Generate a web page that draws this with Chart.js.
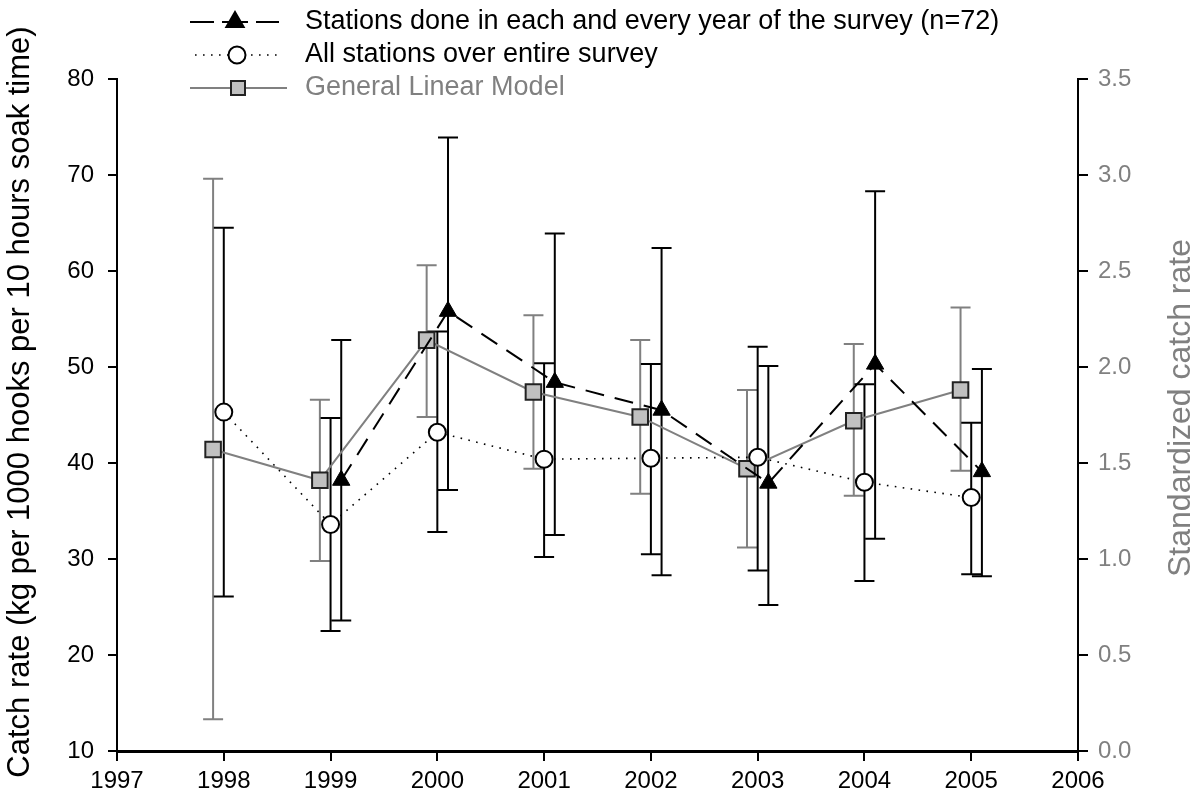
<!DOCTYPE html>
<html>
<head>
<meta charset="utf-8">
<script src="https://cdn.jsdelivr.net/npm/chart.js@4"></script>
<style>
html,body{margin:0;padding:0;background:#fff;}
#wrap{width:1198px;height:801px;position:relative;}
</style>
</head>
<body>
<div id="wrap"><canvas id="c" width="1198" height="801"></canvas></div>
<script>
// ---- data ----
const years = [1998, 1999, 2000, 2001, 2002, 2003, 2004, 2005];
const xTicks = [1997, 1998, 1999, 2000, 2001, 2002, 2003, 2004, 2005, 2006];

// Stations done in each and every year (left axis)
const everyYear      = [null, 38.2, 55.8, 48.4, 45.5, 37.9, 50.3, 39.1];
const everyYearUpper = [null, 52.8, 73.9, 63.9, 62.4, 50.1, 68.3, 49.8];
const everyYearLower = [null, 23.6, 37.2, 32.5, 28.3, 25.2, 32.1, 28.2];

// All stations over entire survey (left axis)
const allStations      = [45.3, 33.6, 43.2, 40.4, 40.5, 40.6, 38.0, 36.4];
const allStationsUpper = [64.5, 44.7, 53.7, 50.4, 50.3, 52.1, 48.2, 44.2];
const allStationsLower = [26.1, 22.5, 32.8, 30.2, 30.5, 28.8, 27.7, 28.4];

// General Linear Model (right axis)
const glm      = [1.57, 1.41, 2.14, 1.87, 1.74, 1.47, 1.72, 1.88];
const glmUpper = [2.98, 1.83, 2.53, 2.27, 2.14, 1.88, 2.12, 2.31];
const glmLower = [0.165, 0.99, 1.74, 1.47, 1.34, 1.06, 1.33, 1.46];

const labels = [
  'Stations done in each and every year of the survey (n=72)',
  'All stations over entire survey',
  'General Linear Model'
];
const leftTitle = 'Catch rate (kg per 1000 hooks per 10 hours soak time)';
const rightTitle = 'Standardized catch rate';

// ---- styling ----
const GRAY = '#808080';
const FONT = '"Liberation Sans", Arial, sans-serif';
const OFF = 0.1; // horizontal offset of series around each year

function pts(vals, off) {
  const out = [];
  years.forEach((yr, i) => { if (vals[i] !== null) out.push({x: yr + off, y: vals[i]}); });
  return out;
}

const datasets = [
  {
    label: labels[2], data: pts(glm, -OFF), yAxisID: 'y2',
    borderColor: GRAY, borderWidth: 2, pointStyle: 'rect', pointRadius: 11,
    pointBackgroundColor: '#c0c0c0', pointBorderColor: '#222', pointBorderWidth: 2,
    errUpper: glmUpper, errLower: glmLower, errColor: GRAY, off: -OFF, order: 3
  },
  {
    label: labels[1], data: pts(allStations, 0), yAxisID: 'y',
    borderColor: '#000', borderWidth: 1.6, borderDash: [1.6, 6.4], pointStyle: 'circle', pointRadius: 8.5,
    pointBackgroundColor: '#fff', pointBorderColor: '#000', pointBorderWidth: 2,
    errUpper: allStationsUpper, errLower: allStationsLower, errColor: '#000', off: 0, order: 2
  },
  {
    label: labels[0], data: pts(everyYear, OFF), yAxisID: 'y',
    borderColor: '#000', borderWidth: 2, borderDash: [19, 11], pointStyle: 'triangle', pointRadius: 10,
    pointBackgroundColor: '#000', pointBorderColor: '#000', pointBorderWidth: 1,
    errUpper: everyYearUpper, errLower: everyYearLower, errColor: '#000', off: OFF, order: 1
  }
];

const errorBars = {
  id: 'errorBars',
  beforeDatasetsDraw(chart) {
    const ctx = chart.ctx;
    const xs = chart.scales.x;
    chart.data.datasets.forEach(ds => {
      const ys = chart.scales[ds.yAxisID];
      ctx.save();
      ctx.strokeStyle = ds.errColor;
      ctx.lineWidth = 2;
      years.forEach((yr, i) => {
        if (ds.errUpper[i] == null) return;
        const x = xs.getPixelForValue(yr + ds.off);
        const yu = ys.getPixelForValue(ds.errUpper[i]);
        const yl = ys.getPixelForValue(ds.errLower[i]);
        ctx.beginPath();
        ctx.moveTo(x, yu); ctx.lineTo(x, yl);
        ctx.moveTo(x - 10, yu); ctx.lineTo(x + 10, yu);
        ctx.moveTo(x - 10, yl); ctx.lineTo(x + 10, yl);
        ctx.stroke();
      });
      ctx.restore();
    });
  }
};

const decorations = {
  id: 'decorations',
  afterDraw(chart) {
    const ctx = chart.ctx;
    ctx.save();
    // axis titles
    ctx.textAlign = 'center';
    ctx.textBaseline = 'middle';
    ctx.font = '31px ' + FONT;
    ctx.fillStyle = '#000';
    ctx.save(); ctx.translate(20, 402); ctx.rotate(-Math.PI / 2); ctx.fillText(leftTitle, 0, 0); ctx.restore();
    ctx.font = '32px ' + FONT;
    ctx.fillStyle = GRAY;
    ctx.save(); ctx.translate(1181, 408); ctx.rotate(-Math.PI / 2); ctx.fillText(rightTitle, 0, 0); ctx.restore();

    // legend
    const rows = [22, 55, 88];
    const tx = 305;
    ctx.font = '27px ' + FONT;
    ctx.textAlign = 'left';
    ctx.textBaseline = 'middle';
    // row 1: dashed + triangle
    ctx.strokeStyle = '#000'; ctx.lineWidth = 2;
    ctx.beginPath();
    ctx.moveTo(190, rows[0]); ctx.lineTo(214, rows[0]);
    ctx.moveTo(256, rows[0]); ctx.lineTo(279, rows[0]);
    ctx.moveTo(222, rows[0]); ctx.lineTo(248, rows[0]);
    ctx.stroke();
    Chart.helpers.drawPoint(ctx, {pointStyle: 'triangle', radius: 10, borderWidth: 1}, 235, rows[0]);
    ctx.fillStyle = '#000'; ctx.fill();
    ctx.fillText(labels[0], tx, rows[0]);
    // row 2: dotted + circle
    ctx.setLineDash([1.6, 6.4]); ctx.lineWidth = 1.6;
    ctx.beginPath(); ctx.moveTo(195, rows[1]); ctx.lineTo(282, rows[1]); ctx.stroke();
    ctx.setLineDash([]);
    ctx.lineWidth = 2; ctx.fillStyle = '#fff'; ctx.strokeStyle = '#000';
    ctx.beginPath(); ctx.arc(237, rows[1], 8.5, 0, Math.PI * 2); ctx.fill(); ctx.stroke();
    ctx.fillStyle = '#000';
    ctx.fillText(labels[1], tx, rows[1]);
    // row 3: gray line + square
    ctx.strokeStyle = GRAY; ctx.lineWidth = 2;
    ctx.beginPath(); ctx.moveTo(190, rows[2]); ctx.lineTo(287, rows[2]); ctx.stroke();
    ctx.fillStyle = '#c0c0c0'; ctx.strokeStyle = '#222';
    ctx.fillRect(231, rows[2] - 7, 14, 14); ctx.strokeRect(231, rows[2] - 7, 14, 14);
    ctx.fillStyle = GRAY;
    ctx.fillText(labels[2], tx, rows[2]);
    ctx.restore();
  }
};

new Chart(document.getElementById('c'), {
  type: 'line',
  data: { datasets },
  plugins: [errorBars, decorations],
  options: {
    responsive: false,
    animation: false,
    layout: { padding: { top: 79, left: 0, right: 0, bottom: 0 } },
    plugins: { legend: { display: false }, tooltip: { enabled: false } },
    scales: {
      x: {
        type: 'linear', min: 1997, max: 2006,
        afterBuildTicks: s => { s.ticks = xTicks.map(v => ({value: v})); },
        afterFit: s => { s.height = 50; },
        ticks: { color: '#000', font: { size: 24, family: FONT }, padding: 6, maxRotation: 0,
                 callback: v => String(v) },
        grid: { drawOnChartArea: false, drawTicks: true, tickLength: 10, color: '#000', lineWidth: 2 },
        border: { display: true, color: '#000', width: 3 }
      },
      y: {
        position: 'left', min: 10, max: 80,
        afterFit: s => { s.width = 117; },
        ticks: { stepSize: 10, color: '#000', font: { size: 24, family: FONT }, padding: 14 },
        grid: { drawOnChartArea: false, drawTicks: true, tickLength: 9, color: '#000', lineWidth: 2 },
        border: { display: true, color: '#000', width: 2 }
      },
      y2: {
        position: 'right', min: 0, max: 3.5,
        afterFit: s => { s.width = 120; },
        ticks: { stepSize: 0.5, color: GRAY, font: { size: 24, family: FONT }, padding: 10,
                 callback: v => Number(v).toFixed(1) },
        grid: { drawOnChartArea: false, drawTicks: true, tickLength: 10, color: '#000', lineWidth: 2 },
        border: { display: true, color: '#000', width: 2 }
      }
    }
  }
});
</script>
</body>
</html>
